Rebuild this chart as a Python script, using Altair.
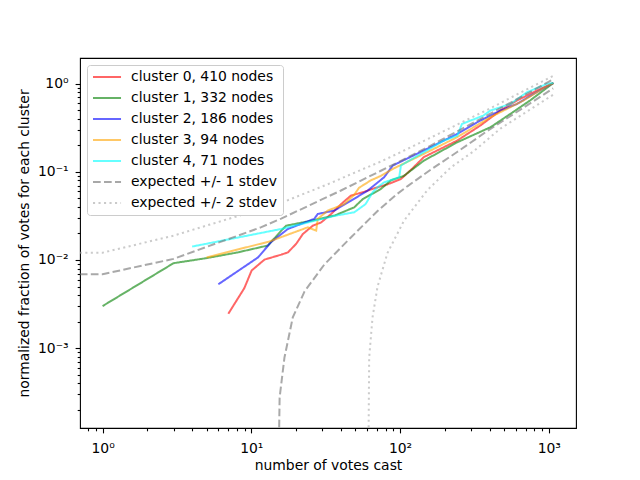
import altair as alt
import pandas as pd

# ---- series labels & styles ----
labels = ["cluster 0, 410 nodes", "cluster 1, 332 nodes", "cluster 2, 186 nodes",
          "cluster 3, 94 nodes", "cluster 4, 71 nodes",
          "expected +/- 1 stdev", "expected +/- 2 stdev"]
colors = ["red", "green", "blue", "orange", "cyan", "#707070", "#a8a8a8"]
opacities = [0.6, 0.6, 0.6, 0.6, 0.6, 1.0, 1.0]
dashes = [[1, 0], [1, 0], [1, 0], [1, 0], [1, 0], [7.7, 3.3], [2.1, 3.4]]

# ---- cluster curves (votes cast, normalized fraction) ----
c0_x = [7, 8.98, 10.05, 12.26, 15.89, 17.62, 20.0, 22.2, 25.9, 29.5, 34.4, 40.1, 46.7, 56.1, 66.9, 82.1, 101.4, 121.6, 144.5, 242.7, 347, 473, 612, 833, 1073]
c0_y = [0.00245, 0.0048, 0.0076, 0.0101, 0.0115, 0.0122, 0.0152, 0.0197, 0.0245, 0.0267, 0.0333, 0.043, 0.0538, 0.0586, 0.065, 0.072, 0.083, 0.11, 0.147, 0.227, 0.336, 0.497, 0.646, 0.839, 1.02]

c1_x = [1, 3, 5, 8.11, 12.93, 15.89, 17.14, 25.6, 36.4, 49.2, 56.1, 74.3, 86.7, 106, 144.5, 242.7, 405.5, 553, 748, 1073]
c1_y = [0.0030, 0.0092, 0.0105, 0.0122, 0.0146, 0.0215, 0.0245, 0.028, 0.032, 0.0396, 0.049, 0.064, 0.080, 0.090, 0.134, 0.217, 0.321, 0.456, 0.646, 1.02]

c2_x = [6, 11.1, 13.6, 17.62, 26.5, 27.97, 36.1, 46.7, 60.5, 78.2, 89.4, 144.5, 242.7, 330, 473, 612, 792, 1073]
c2_y = [0.0053, 0.0107, 0.0160, 0.0225, 0.0293, 0.0333, 0.0364, 0.047, 0.0612, 0.087, 0.118, 0.175, 0.27, 0.366, 0.497, 0.59, 0.77, 1.02]

c3_x = [5, 13.2, 24.0, 27.3, 27.97, 32.7, 42.1, 49.2, 53.0, 63.5, 74.3, 91.3, 144.5, 242.7, 405.5, 677.5, 907, 1073]
c3_y = [0.0107, 0.0162, 0.0235, 0.0215, 0.0293, 0.0364, 0.043, 0.055, 0.066, 0.080, 0.090, 0.11, 0.16, 0.248, 0.418, 0.646, 0.877, 1.02]

c4_x = [4, 15.89, 36.1, 49.2, 58.6, 65.4, 70.6, 78.2, 98.7, 101.4, 138.1, 197.3, 242.7, 260.8, 364, 405.5, 553, 713, 977, 1073]
c4_y = [0.0142, 0.0225, 0.0316, 0.0348, 0.043, 0.0586, 0.067, 0.076, 0.087, 0.118, 0.16, 0.227, 0.258, 0.35, 0.436, 0.497, 0.59, 0.80, 1.0, 1.02]

# ---- expected +/- stdev envelopes ----
up1_x = [0.5, 1, 3, 11.68, 15.89, 40.1, 74.3, 94.1, 160.9, 384.8, 1070]
up1_y = [0.0069, 0.0069, 0.0103, 0.0236, 0.0295, 0.0615, 0.103, 0.125, 0.199, 0.437, 1.12]
lo1_x = [15.2, 15.5, 16.7, 19.0, 22.8, 31.0, 46.7, 70.6, 94.1, 112.5, 160.9, 242, 384.8, 1070]
lo1_y = [0.00003, 0.000275, 0.00078, 0.00223, 0.0044, 0.0089, 0.018, 0.036, 0.055, 0.069, 0.106, 0.168, 0.29, 0.885]
up2_x = [0.5, 1, 3, 15.89, 34.4, 46.7, 74.3, 94.1, 160.9, 384.8, 1070]
up2_y = [0.0121, 0.0121, 0.0189, 0.0445, 0.075, 0.094, 0.131, 0.158, 0.245, 0.505, 1.23]
lo2_x = [61.1, 62.0, 65.3, 70.6, 82.3, 106.4, 152.6, 219, 313, 473, 1070]
lo2_y = [0.00003, 0.00078, 0.00223, 0.0050, 0.012, 0.028, 0.062, 0.112, 0.172, 0.31, 0.75]

# ---- axis ticks ----
x_major = [1, 10, 100, 1000]
x_minor = [0.8, 0.9, 2, 3, 4, 5, 6, 7, 8, 9, 20, 30, 40, 50, 60, 70, 80, 90,
           200, 300, 400, 500, 600, 700, 800, 900]
y_major = [0.001, 0.01, 0.1, 1]
y_minor = [0.0002, 0.0003, 0.0004, 0.0005, 0.0006, 0.0007, 0.0008, 0.0009,
           0.002, 0.003, 0.004, 0.005, 0.006, 0.007, 0.008, 0.009,
           0.02, 0.03, 0.04, 0.05, 0.06, 0.07, 0.08, 0.09,
           0.2, 0.3, 0.4, 0.5, 0.6, 0.7, 0.8, 0.9]

rows = []
def add(label, part, xs, ys):
    for a, b in zip(xs, ys):
        rows.append({"series": label, "part": part, "x": a, "y": b})

add(labels[0], "a", c0_x, c0_y)
add(labels[1], "a", c1_x, c1_y)
add(labels[2], "a", c2_x, c2_y)
add(labels[3], "a", c3_x, c3_y)
add(labels[4], "a", c4_x, c4_y)
add(labels[5], "upper", up1_x, up1_y)
add(labels[5], "lower", lo1_x, lo1_y)
add(labels[6], "upper", up2_x, up2_y)
add(labels[6], "lower", lo2_x, lo2_y)
df = pd.DataFrame(rows)

FONT = "DejaVu Sans"
FS = 13.9

x_lab = "datum.value == 1 ? '10⁰' : datum.value == 10 ? '10¹' : datum.value == 100 ? '10²' : datum.value == 1000 ? '10³' : ''"
y_lab = "datum.value == 1 ? '10⁰' : datum.value == 0.1 ? '10⁻¹' : datum.value == 0.01 ? '10⁻²' : datum.value == 0.001 ? '10⁻³' : ''"

x_axis = alt.Axis(values=x_major + x_minor, labelExpr=x_lab, title="number of votes cast",
                  grid=False, domain=False, tickColor="black", tickWidth=1.1,
                  tickSize={"condition": {"test": "indexof([1,10,100,1000], datum.value) >= 0", "value": 4.9}, "value": 2.8},
                  labelFont=FONT, labelFontSize=FS, titleFont=FONT, titleFontSize=FS,
                  titleFontWeight="normal", labelColor="black", titleColor="black",
                  labelPadding=9, labelOverlap=False, labelFlush=False, titlePadding=3)
y_axis = alt.Axis(values=y_major + y_minor, labelExpr=y_lab,
                  title="normalized fraction of votes for each cluster",
                  grid=False, domain=False, tickColor="black", tickWidth=1.1,
                  tickSize={"condition": {"test": "indexof([1,0.1,0.01,0.001], datum.value) >= 0", "value": 4.9}, "value": 2.8},
                  labelFont=FONT, labelFontSize=FS, titleFont=FONT, titleFontSize=FS,
                  titleFontWeight="normal", labelColor="black", titleColor="black",
                  labelPadding=7, labelOverlap=False, labelFlush=False, titlePadding=6)

legend = alt.Legend(title=None, orient="top-left", offset=7, fillColor="white",
                    strokeColor="#cccccc", cornerRadius=3, padding=5,
                    symbolType="M-1,0H3.67", symbolSize=144, symbolStrokeWidth=2,
                    labelFont=FONT, labelFontSize=FS, labelColor="black",
                    rowPadding=7, labelOffset=25, labelLimit=400)

chart = alt.Chart(df).mark_line(clip=True, strokeWidth=2).encode(
    x=alt.X("x:Q", scale=alt.Scale(type="log", domain=[0.705, 1524], nice=False), axis=x_axis),
    y=alt.Y("y:Q", scale=alt.Scale(type="log", domain=[0.000124, 1.96], nice=False), axis=y_axis),
    color=alt.Color("series:N", scale=alt.Scale(domain=labels, range=colors), legend=legend),
    strokeDash=alt.StrokeDash("series:N", scale=alt.Scale(domain=labels, range=dashes), legend=legend),
    opacity=alt.Opacity("series:N", scale=alt.Scale(domain=labels, range=opacities), legend=legend),
    detail="part:N",
).properties(
    width=496, height=370, autosize="none",
    padding={"left": 72, "top": 50, "right": 56, "bottom": 48},
).configure_view(stroke="black", strokeWidth=1.1)

chart.save("out.html", embed_options={"renderer": "svg", "actions": False})
